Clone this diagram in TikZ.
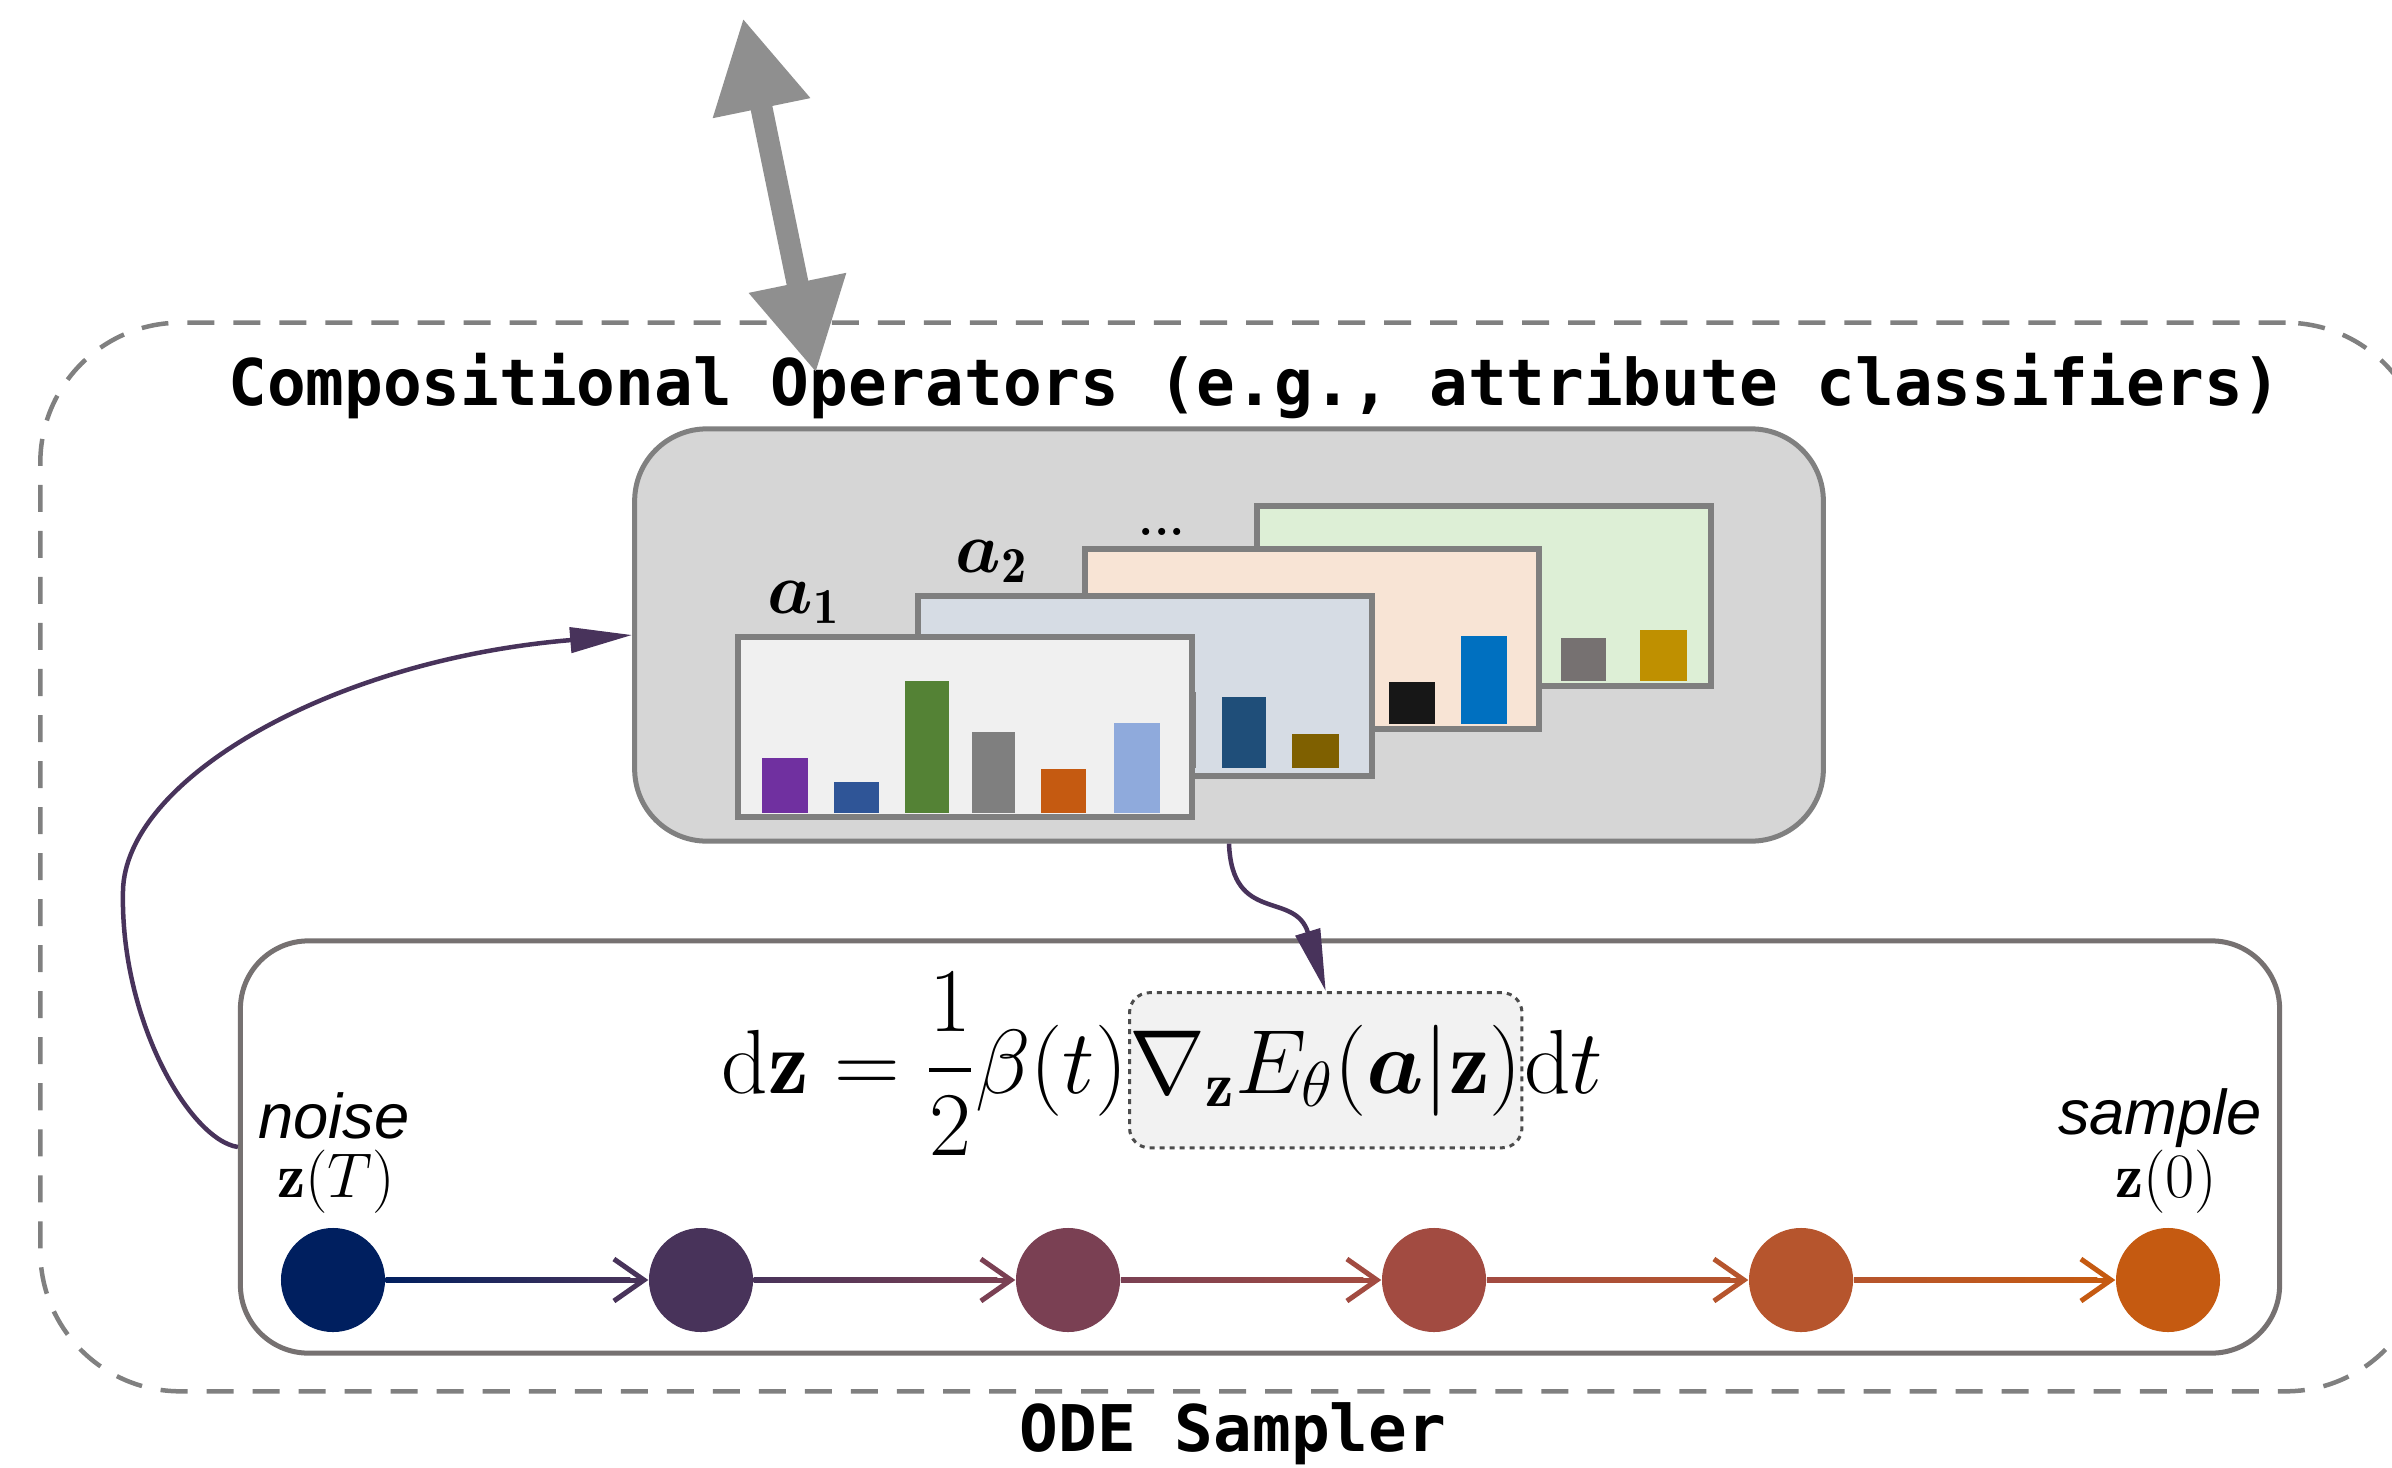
\RequirePackage{fix-cm}
\documentclass[tikz,border=0pt]{standalone}
\usepackage{amsmath}
\usepackage{bm}
\usepackage{fontspec}
\newfontfamily\monob{DejaVu Sans Mono}
\newfontfamily\helv{Liberation Sans}
\usetikzlibrary{arrows.meta,calc}

% palette
\definecolor{frameGray}{HTML}{808080}
\definecolor{opsFill}{HTML}{D6D6D6}
\definecolor{odeEdge}{HTML}{767171}
\definecolor{cardEdge}{HTML}{7F7F7F}
\definecolor{linkPurple}{HTML}{48335B}
\definecolor{bigArrow}{HTML}{8F8F8F}
\definecolor{cardA}{HTML}{F0F0F0}
\definecolor{cardB}{HTML}{D6DCE4}
\definecolor{cardC}{HTML}{F8E4D5}
\definecolor{cardD}{HTML}{DDEFD6}
\definecolor{stA}{HTML}{001F5F}
\definecolor{stB}{HTML}{48335A}
\definecolor{stC}{HTML}{7A4053}
\definecolor{stD}{HTML}{A24B41}
\definecolor{stE}{HTML}{B6552D}
\definecolor{stF}{HTML}{C55A11}
% bar colours
\definecolor{barPurple}{HTML}{7030A0}
\definecolor{barBlue}{HTML}{2F5597}
\definecolor{barGreen}{HTML}{548235}
\definecolor{barGray}{HTML}{7F7F7F}
\definecolor{barOrange}{HTML}{C55A11}
\definecolor{barSky}{HTML}{8FAADC}
\definecolor{barNavy}{HTML}{1F4E79}
\definecolor{barBrown}{HTML}{7F6000}
\definecolor{barBlack}{HTML}{171717}
\definecolor{barAzure}{HTML}{0070C0}
\definecolor{barTaupe}{HTML}{767171}
\definecolor{barGold}{HTML}{BF9000}

\newcommand\eqfont{\fontsize{25.9pt}{31pt}\selectfont}
\newcommand\labfont{\fontsize{18pt}{21pt}\selectfont}
\newcommand\headfont{\monob\bfseries\fontsize{18.3pt}{22pt}\selectfont}

\begin{document}
\begin{tikzpicture}[x=0.01cm, y=-0.01cm,
  outerframe/.style={draw=frameGray, line width=0.045cm,
    dash pattern=on 0.27cm off 0.19cm, rounded corners=1.4cm,
    minimum width=23.84cm, minimum height=10.68cm, inner sep=0},
  opsbox/.style={draw=frameGray, fill=opsFill, line width=0.05cm,
    rounded corners=0.72cm, minimum width=11.88cm, minimum height=4.12cm, inner sep=0},
  odebox/.style={draw=odeEdge, fill=white, line width=0.05cm,
    rounded corners=0.68cm, minimum width=20.38cm, minimum height=4.12cm, inner sep=0},
  card/.style={draw=cardEdge, line width=0.055cm, anchor=north west,
    minimum width=4.54cm, minimum height=1.80cm, inner sep=0},
  gradbox/.style={draw=black!70, fill=black!5, line width=0.03cm,
    dash pattern=on 0.05cm off 0.05cm, rounded corners=0.2cm,
    inner xsep=0pt, inner ysep=0.32cm, font=\eqfont},
  eqpart/.style={inner sep=0pt, font=\eqfont},
  stepdot/.style={circle, minimum size=1.04cm, inner sep=0},
  chain/.style={line width=0.05cm, -{Straight Barb[length=0.3cm, width=0.42cm]}},
  link/.style={draw=linkPurple, line width=0.045cm,
    -{Triangle[length=0.62cm, width=0.25cm]}},
  bothway/.style={draw=bigArrow, line width=0.22cm,
    {Triangle[length=0.92cm, width=0.93cm]}-{Triangle[length=0.92cm, width=0.93cm]}},
  heading/.style={inner sep=0, font=\headfont, anchor=base},
  attr/.style={inner sep=0, anchor=base west, font=\fontsize{20.5pt}{24pt}\selectfont},
  steplabel/.style={inner sep=0, anchor=base, font=\labfont}
]
\useasboundingbox (0,0) rectangle (2392,1467);

% outer dashed frame and its captions
\node[outerframe] (frame) at (1233,857) {};
\node[heading] (title) at (1255,406) {Compositional Operators (e.g., attribute classifiers)};
\node[heading] (odetitle) at (1233,1451) {ODE Sampler};

% operator panel with stacked classifier cards
\node[opsbox] (ops) at (1229,635) {};

\node[card, fill=cardD] (cd) at (1254,503) {};
\fill[barTaupe] (1561,638) rectangle (1606,681);
\fill[barGold] (1640,630) rectangle (1687,681);

\node[card, fill=cardC] (cc) at (1082,546) {};
\fill[barBlack] (1389,682) rectangle (1435,724);
\fill[barAzure] (1461,636) rectangle (1507,724);

\node[card, fill=cardB] (cb) at (915,593) {};
\fill[barGray] (1150,692) rectangle (1196,768);
\fill[barNavy] (1222,697) rectangle (1266,768);
\fill[barBrown] (1292,734) rectangle (1339,768);

\node[card, fill=cardA] (ca) at (735,634) {};
\fill[barPurple] (762,758) rectangle (808,813);
\fill[barBlue] (834,782) rectangle (879,813);
\fill[barGreen] (905,681) rectangle (949,813);
\fill[barGray] (972,732) rectangle (1015,813);
\fill[barOrange] (1041,769) rectangle (1086,813);
\fill[barSky] (1114,723) rectangle (1160,813);

\node[attr] (a1) at (767,613) {$\bm{a}_{\mathbf{1}}$};
\node[attr] (a2) at (955,572) {$\bm{a}_{\mathbf{2}}$};
\node[inner sep=0, anchor=base west, font=\bfseries\fontsize{14pt}{16pt}\selectfont] (more) at (1138,535) {...};

% sampler panel
\node[odebox] (ode) at (1260,1147) {};

\node[gradbox, anchor=base west] (grad) at (1128,1093)
  {$\nabla_{\mathbf{z}}E_{\theta}(\bm{a}|\mathbf{z})$};
\node[eqpart, anchor=base east] (eqL) at (grad.base west)
  {$\mathrm{d}\mathbf{z} = \dfrac{1}{2}\beta(t)$};
\node[eqpart, anchor=base west] (eqR) at (grad.base east) {$\mathrm{d}t$};

\node[steplabel] (noise) at (334,1138) {\helv\itshape noise};
\node[steplabel] (zT) at (336,1197) {$\mathbf{z}(T)$};
\node[steplabel] (sample) at (2160,1134) {\helv\itshape sample};
\node[steplabel] (z0) at (2166,1197) {$\mathbf{z}(0)$};

\node[stepdot, fill=stA] (s1) at (333,1280) {};
\node[stepdot, fill=stB] (s2) at (701,1280) {};
\node[stepdot, fill=stC] (s3) at (1068,1280) {};
\node[stepdot, fill=stD] (s4) at (1434,1280) {};
\node[stepdot, fill=stE] (s5) at (1801,1280) {};
\node[stepdot, fill=stF] (s6) at (2168,1280) {};

% ODE steps: arrow in the target colour, shaft shaded between the two states
\foreach \a/\b/\ca/\cb in {s1/s2/stA/stB, s2/s3/stB/stC, s3/s4/stC/stD, s4/s5/stD/stE, s5/s6/stE/stF}{
  \draw[chain, draw=\cb] (\a) -- (\b);
  \shade[left color=\ca, right color=\cb]
    ($(\a.east)+(0,-2.5)$) rectangle ($(\b.west)+(-18,2.5)$);
}

% feedback links
\draw[link] (ode.west) .. controls (190,1140) and (120,1020) .. (123,891)
  .. controls (125,780) and (330,660) .. (ops.west);
\draw[link] (ops.south) .. controls (1232,925) and (1295,890) .. (grad.north);

% two-way arrow leaving the frame at the top
\coordinate (upT) at (743,18);
\coordinate (upB) at (816,373);
\draw[bothway] (upT) -- (upB);
\end{tikzpicture}
\end{document}
